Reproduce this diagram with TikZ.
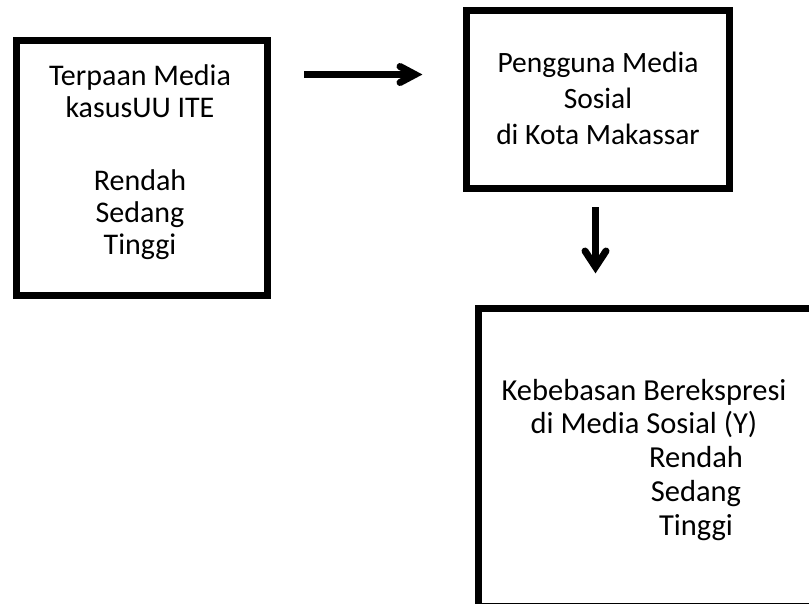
\documentclass[tikz,border=0pt]{standalone}
\usepackage{fontspec}
\setmainfont{Carlito}
\usetikzlibrary{calc}
\begin{document}
\begin{tikzpicture}[x=1pt,y=-1pt,
  frame/.style={draw=black, line width=7pt, rectangle, inner sep=0pt},
  txt/.style={inner sep=0pt, anchor=north, align=center},
  shaft/.style={draw=black, line width=7pt, line cap=butt},
  barb/.style={draw=black, line width=7pt, line cap=round, line join=miter, miter limit=10}]
\clip (0,0) rectangle (809,603);
\fill[white] (0,0) rectangle (809,603);
% boxes
\node[frame, minimum width=251pt, minimum height=255pt] (b1) at (142,168) {};
\node[frame, minimum width=263pt, minimum height=178pt] (b2) at (598,99.5) {};
\node[frame, minimum width=351.5pt, minimum height=298pt] (b3) at (654.25,457) {};
% texts
\node[txt, font=\fontsize{30}{32}\selectfont] (t1) at (140,64)
  {Terpaan Media\\kasusUU ITE\\[41pt]Rendah\\Sedang\\Tinggi};
\node[txt, font=\fontsize{29.5}{36}\selectfont] (t2) at (598,52)
  {Pengguna Media\\Sosial\\di Kota Makassar};
\node[txt, font=\fontsize{30.5}{33}\selectfont] (t3a) at (644,379)
  {Kebebasan Berekspresi\\di Media Sosial (Y)};
\node[txt, font=\fontsize{30.5}{34}\selectfont] (t3b) at (696,446)
  {Rendah\\Sedang\\Tinggi};
% arrow 1 (horizontal)
\coordinate (a1s) at (304,74.5);
\coordinate (a1e) at (415,74.5);
\draw[shaft] (a1s) -- (a1e);
\draw[barb] ($(a1e)+(-15,-8)$) -- (a1e) -- ($(a1e)+(-15,8)$);
% arrow 2 (vertical)
\coordinate (a2s) at (595.5,207);
\coordinate (a2e) at (595.5,267);
\draw[shaft] (a2s) -- (a2e);
\draw[barb] ($(a2e)+(-10.5,-16)$) -- (a2e) -- ($(a2e)+(10.5,-16)$);
\end{tikzpicture}
\end{document}
